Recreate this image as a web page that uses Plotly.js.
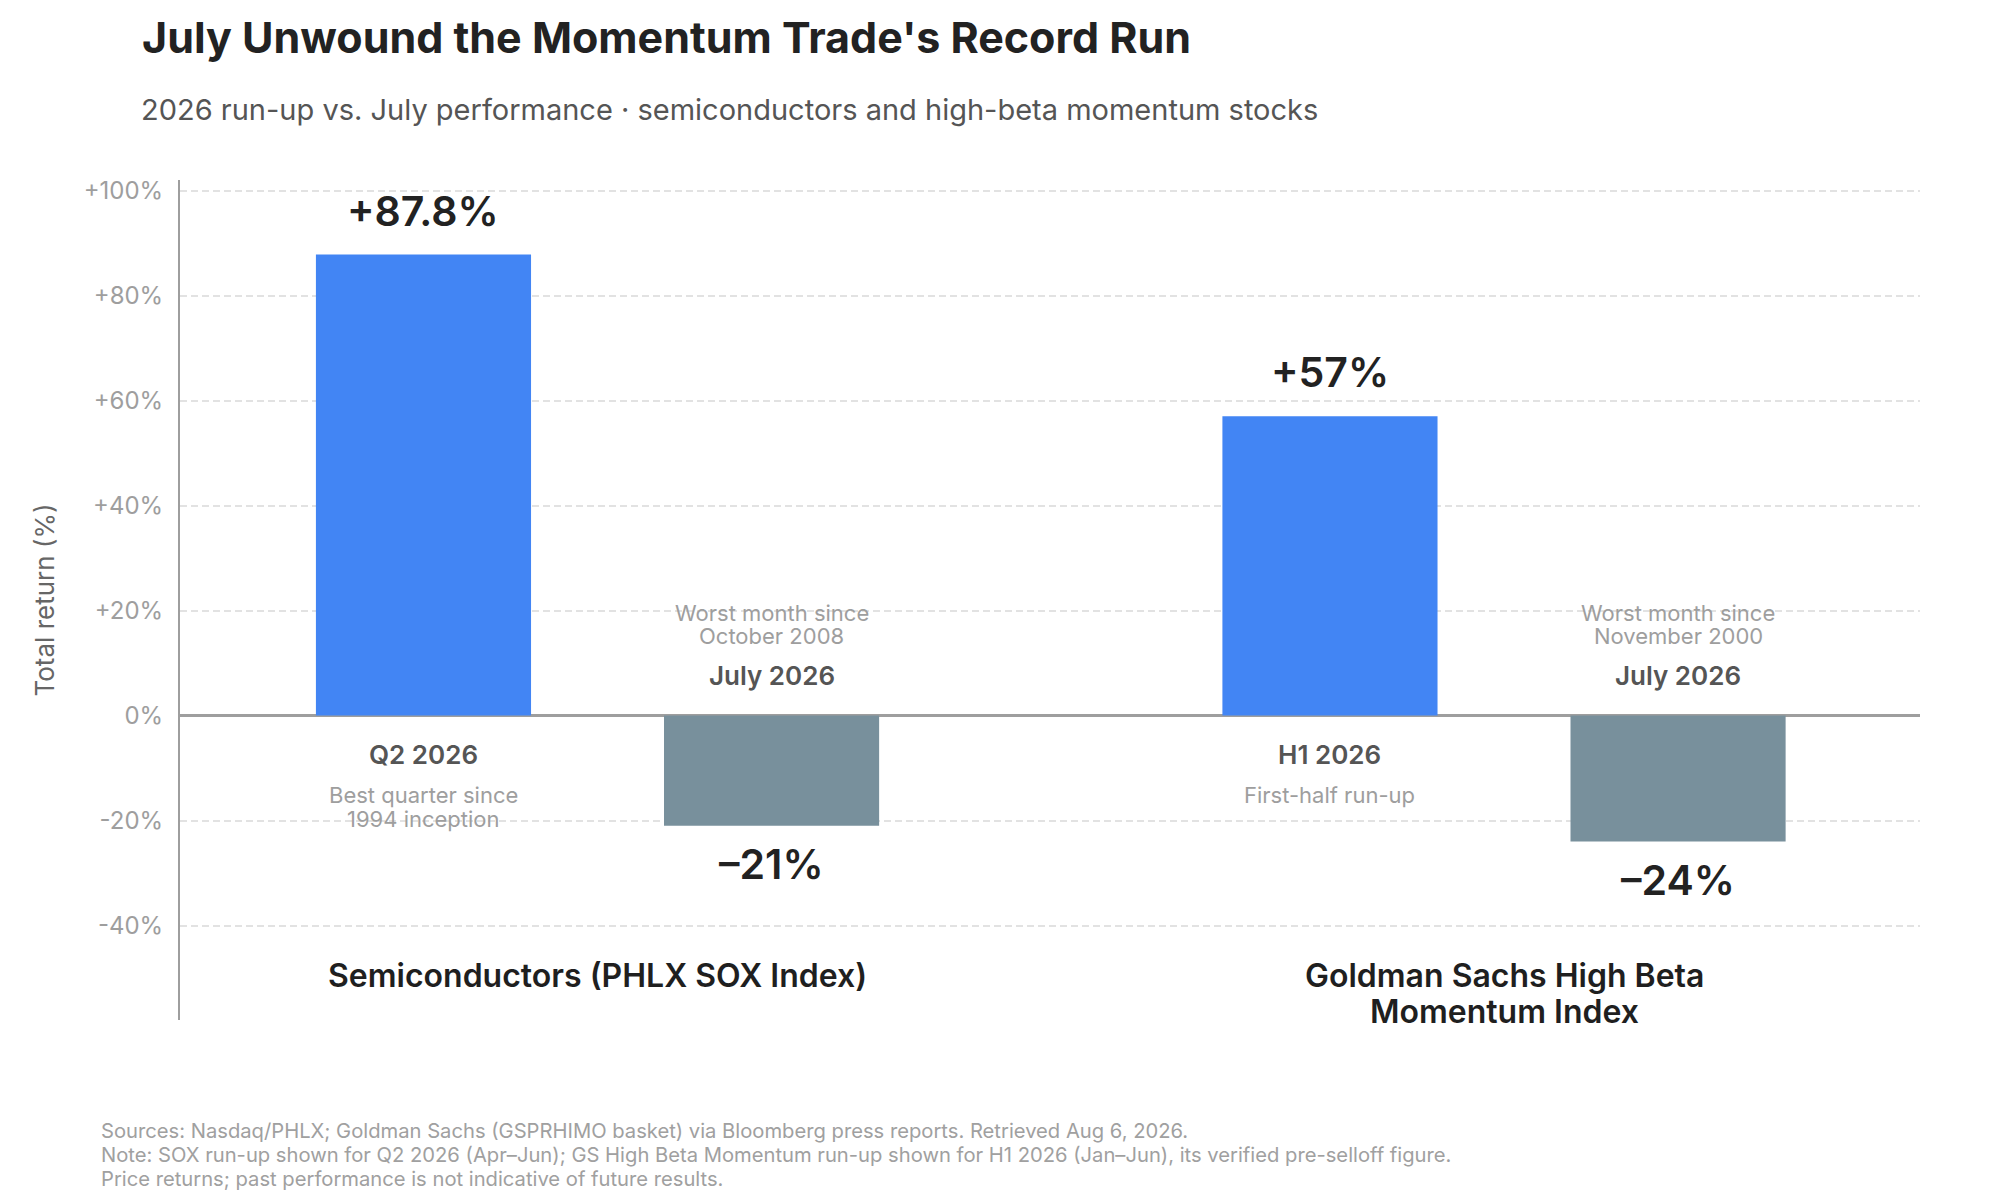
<!DOCTYPE html>
<html>
<head>
<meta charset="utf-8">
<script src="https://cdn.plot.ly/plotly-3.0.1.min.js"></script>
<style>
  body { margin: 0; background: #fff; }
  #chart { width: 2000px; height: 1200px; }
</style>
</head>
<body>
<div id="chart"></div>
<script>
// data
const groups = ["Semiconductors (PHLX SOX Index)", "Goldman Sachs High Beta Momentum Index"];
const groupLabelLines = [["Semiconductors (PHLX SOX Index)"], ["Goldman Sachs High Beta", "Momentum Index"]];
const runupValues = [87.8, 57];
const julyValues = [-21, -24];
const runupText = ["+87.8%", "+57%"];
const julyText = ["\u201321%", "\u201324%"];
const runupPeriods = ["Q2 2026", "H1 2026"];
const runupNotes = [["Best quarter since", "1994 inception"], ["First-half run-up"]];
const julyPeriods = ["July 2026", "July 2026"];
const julyNotes = [["Worst month since", "October 2008"], ["Worst month since", "November 2000"]];
const yTicks = [-40, -20, 0, 20, 40, 60, 80, 100];
const yTickText = ["-40%", "-20%", "0%", "+20%", "+40%", "+60%", "+80%", "+100%"];
const footerLines = [
    "Sources: Nasdaq/PHLX; Goldman Sachs (GSPRHIMO basket) via Bloomberg press reports. Retrieved Aug 6, 2026.",
    "Note: SOX run-up shown for Q2 2026 (Apr\u2013Jun); GS High Beta Momentum run-up shown for H1 2026 (Jan\u2013Jun), its verified pre-selloff figure.",
    "Price returns; past performance is not indicative of future results."
];

const FONT = 'Inter, "Noto Sans", sans-serif';
const BARGAP = 0.232;
const dx = (1 - BARGAP) / 4;   // offset of each bar from its group centre

const data = [
    {
        type: "bar",
        x: groups,
        y: runupValues,
        marker: {color: "#4285F4"},
        hoverinfo: "skip"
    },
    {
        type: "bar",
        x: groups,
        y: julyValues,
        marker: {color: "#78909C"},
        hoverinfo: "skip"
    }
];

const annotations = [];

function addLines(x, y, lines, font, yshift0, spacing) {
    lines.forEach(function (line, k) {
        annotations.push({
            x: x, y: y, xref: "x", yref: "y",
            text: line, showarrow: false,
            xanchor: "center", yanchor: "middle",
            yshift: yshift0 - k * spacing,
            font: font
        });
    });
}

const valueFont = {family: FONT, size: 41, color: "#222222", weight: 600};
const periodFont = {family: FONT, size: 26, color: "#555555", weight: 600};
const noteFont = {family: FONT, size: 22, color: "#9e9e9e"};
const groupFont = {family: FONT, size: 32, color: "#1f1f1f", weight: 600};

groups.forEach(function (g, i) {
    const xr = i - dx, xj = i + dx;
    addLines(xr, runupValues[i], [runupText[i]], valueFont, 44, 0);
    addLines(xj, julyValues[i], [julyText[i]], valueFont, -38, 0);
    addLines(xr, 0, [runupPeriods[i]], periodFont, -39, 0);
    addLines(xr, 0, runupNotes[i], noteFont, -79, 24.5);
    addLines(xj, 0, [julyPeriods[i]], periodFont, 40, 0);
    addLines(xj, 0, julyNotes[i], noteFont, 103, 23.5);
    addLines(i, 0, groupLabelLines[i], groupFont, -260, 36);
});

// subtitle
annotations.push({
    xref: "paper", yref: "paper", x: -0.0236, y: 1.0845,
    xanchor: "left", yanchor: "middle", showarrow: false,
    text: "2026 run-up vs. July performance \u00b7 semiconductors and high-beta momentum stocks",
    font: {family: FONT, size: 29, color: "#555555"}
});

// footer
footerLines.forEach(function (line, k) {
    annotations.push({
        xref: "paper", yref: "paper", x: -0.0466, y: -0.1310,
        xanchor: "left", yanchor: "middle", showarrow: false,
        yshift: -k * 24,
        text: line,
        font: {family: FONT, size: 20.2, color: "#a0a0a0"}
    });
});

const layout = {
    width: 2000,
    height: 1200,
    margin: {l: 180, r: 80, t: 180, b: 180},
    paper_bgcolor: "#ffffff",
    plot_bgcolor: "#ffffff",
    showlegend: false,
    hovermode: false,
    barmode: "group",
    bargap: BARGAP,
    bargroupgap: 0.382,
    title: {
        text: "July Unwound the Momentum Trade's Record Run",
        xref: "container", yref: "container",
        x: 0.071, xanchor: "left",
        y: 1 - 38 / 1200, yanchor: "middle",
        font: {family: FONT, size: 43, color: "#222222", weight: 700}
    },
    xaxis: {
        type: "category",
        range: [-0.4606, 1.4589],
        showticklabels: false,
        showgrid: false,
        zeroline: false,
        showline: false,
        ticks: ""
    },
    yaxis: {
        range: [-58, 102],
        tickvals: yTicks,
        ticktext: yTickText,
        tickfont: {family: FONT, size: 24, color: "#9e9e9e"},
        ticks: "",
        ticklabelstandoff: 10,
        showgrid: true,
        gridcolor: "#e2e2e2",
        gridwidth: 2,
        griddash: "7px,4px",
        zeroline: true,
        zerolinecolor: "#9e9e9e",
        zerolinewidth: 2.5,
        showline: true,
        linecolor: "#9e9e9e",
        linewidth: 2,
        title: {
            text: "Total return (%)",
            standoff: 22,
            font: {family: FONT, size: 26, color: "#666666"}
        }
    },
    annotations: annotations
};

Plotly.newPlot("chart", data, layout, {displayModeBar: false, staticPlot: true});
</script>
</body>
</html>
